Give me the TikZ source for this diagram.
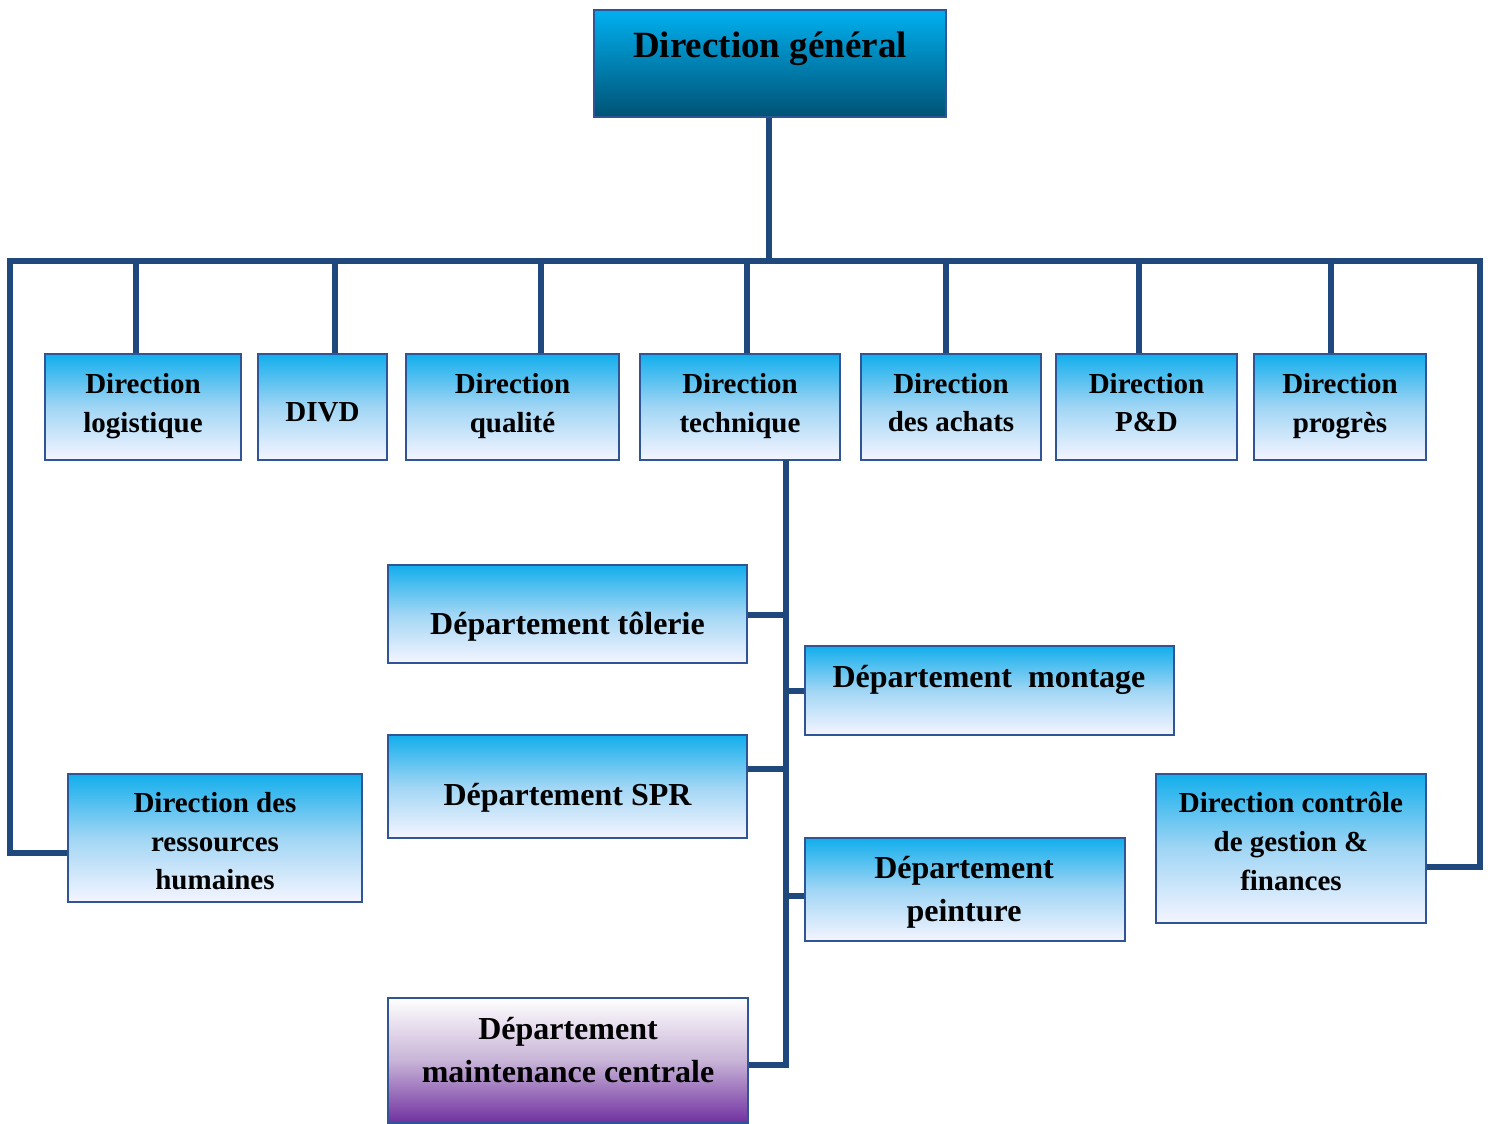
\documentclass[tikz,border=0pt]{standalone}
\usepackage{fontspec}
\setmainfont{Liberation Serif}
\definecolor{lineblue}{RGB}{31,73,125}
\definecolor{edgeblue}{RGB}{47,85,151}
\definecolor{cyantop}{RGB}{18,174,236}
\definecolor{midblue}{RGB}{120,196,240}
\definecolor{darkteal}{RGB}{0,82,116}
\definecolor{topcyan}{RGB}{0,176,240}
\definecolor{purp}{RGB}{112,48,160}
\definecolor{midpurp}{RGB}{200,180,215}
\tikzset{
  box/.style={draw=edgeblue, line width=0.8pt, inner sep=0pt},
  lightbox/.style={box, top color=cyantop, bottom color=white!96!blue, middle color=midblue!70!white},
  topbox/.style={box, top color=topcyan, bottom color=darkteal},
  purpbox/.style={box, top color=white, bottom color=purp, middle color=midpurp},
  txt/.style={align=center, font=\fontsize{14.5}{19.3}\selectfont\bfseries},
  dtxt/.style={align=center, font=\fontsize{16}{21.5}\selectfont\bfseries},
  link/.style={draw=lineblue, line width=3pt, line join=miter},
}
\begin{document}
\begin{tikzpicture}[x=0.5pt, y=-0.5pt]
\useasboundingbox (0,0) rectangle (1488,1124);
% boxes
\node[topbox, minimum width=176pt, minimum height=53.5pt] (dg) at (770,63.5) {};
\node[lightbox, minimum width=98pt, minimum height=53pt] (log) at (143,407) {};
\node[lightbox, minimum width=64.5pt, minimum height=53pt] (divd) at (322.5,407) {};
\node[lightbox, minimum width=106.5pt, minimum height=53pt] (qual) at (512.5,407) {};
\node[lightbox, minimum width=100pt, minimum height=53pt] (tech) at (740,407) {};
\node[lightbox, minimum width=90pt, minimum height=53pt] (ach) at (951,407) {};
\node[lightbox, minimum width=90.5pt, minimum height=53pt] (pd) at (1146.5,407) {};
\node[lightbox, minimum width=86pt, minimum height=53pt] (prog) at (1340,407) {};
\node[lightbox, minimum width=179.5pt, minimum height=49pt] (tol) at (567.5,614) {};
\node[lightbox, minimum width=184.5pt, minimum height=44.5pt] (mont) at (989.5,690.5) {};
\node[lightbox, minimum width=179.5pt, minimum height=51.5pt] (spr) at (567.5,786.5) {};
\node[lightbox, minimum width=160pt, minimum height=51.5pt] (peint) at (965,889.5) {};
\node[purpbox, minimum width=180pt, minimum height=62.5pt] (maint) at (568,1060.5) {};
\node[lightbox, minimum width=147pt, minimum height=64pt] (rh) at (215,838) {};
\node[lightbox, minimum width=135pt, minimum height=74.5pt] (dcg) at (1291,848.5) {};
% texts
\node[align=center, font=\fontsize{18.5}{22}\selectfont\bfseries] (tdg) at (770,49) {Direction général};
\node[txt] (tlog) at (143,406) {Direction\\logistique};
\node[txt] (tdivd) at (322.5,412) {DIVD};
\node[txt] (tqual) at (512.5,406) {Direction\\qualité};
\node[txt] (ttech) at (740,406) {Direction\\technique};
\node[txt] (tach) at (951,402.5) {Direction\\des achats};
\node[txt] (tpd) at (1146.5,402.5) {Direction\\P\&D};
\node[txt] (tprog) at (1340,406) {Direction\\progrès};
\node[dtxt] (ttol) at (567.5,627) {Département tôlerie};
\node[dtxt] (tmont) at (989,680) {Département\ \ montage};
\node[dtxt] (tspr) at (567.5,798) {Département SPR};
\node[dtxt] (tpeint) at (964,892.5) {Département\\peinture};
\node[dtxt] (tmaint) at (568,1050.5) {Département\\maintenance centrale};
\node[txt] (trh) at (215,841.5) {Direction des\\ressources\\humaines};
\node[txt] (tdcg) at (1291,841.5) {Direction contrôle\\de gestion \&\\finances};
% bus
\coordinate (busL) at (10,261);
\coordinate (busR) at (1480,261);
\coordinate (busC) at (769,261);
\draw[link] (dg.south -| busC) -- (busC);
\draw[link, line cap=rect] (busL) -- (busR);
\draw[link] (busL) |- ([yshift=-7.5pt]rh.west);
\draw[link] (busR) |- ([yshift=-9pt]dcg.east);
\coordinate (b1) at (136,261);
\coordinate (b2) at (335,261);
\coordinate (b3) at (541,261);
\coordinate (b4) at (747,261);
\coordinate (b5) at (946,261);
\coordinate (b6) at (1139,261);
\coordinate (b7) at (1331,261);
\draw[link] (b1) -- (b1 |- log.north);
\draw[link] (b2) -- (b2 |- divd.north);
\draw[link] (b3) -- (b3 |- qual.north);
\draw[link] (b4) -- (b4 |- tech.north);
\draw[link] (b5) -- (b5 |- ach.north);
\draw[link] (b6) -- (b6 |- pd.north);
\draw[link] (b7) -- (b7 |- prog.north);
% trunk
\coordinate (tr) at (786,460);
\draw[link] (tr) |- ([yshift=-2.25pt]maint.east);
\draw[link] ([yshift=-0.5pt]tol.east) -- ([yshift=-0.5pt]tol.east -| tr);
\draw[link] (mont.west) -- (mont.west -| tr);
\draw[link] ([yshift=8.75pt]spr.east) -- ([yshift=8.75pt]spr.east -| tr);
\draw[link] ([yshift=-3.25pt]peint.west) -- ([yshift=-3.25pt]peint.west -| tr);
\end{tikzpicture}
\end{document}
